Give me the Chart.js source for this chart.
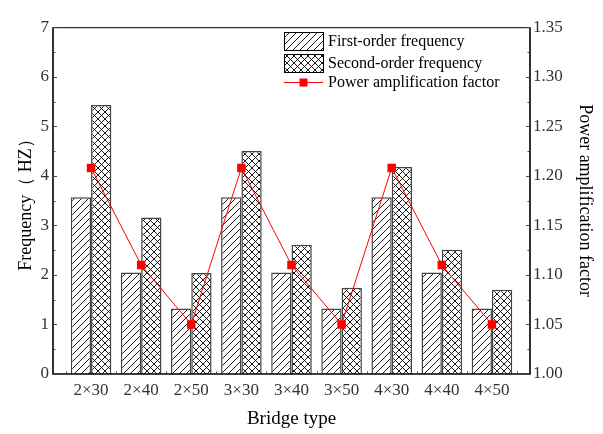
<!DOCTYPE html>
<html>
<head>
<meta charset="utf-8">
<script src="https://cdn.jsdelivr.net/npm/chart.js@4"></script>
<style>
  html, body { margin: 0; padding: 0; background: #fff; }
  #wrap { width: 603px; height: 434px; }
</style>
</head>
<body>
<div id="wrap"><canvas id="chart"></canvas></div>
<script>
const bridgeTypes = ["2×30", "2×40", "2×50", "3×30", "3×40", "3×50", "4×30", "4×40", "4×50"];
const firstOrder = [3.57, 2.05, 1.32, 3.57, 2.05, 1.32, 3.57, 2.05, 1.32];
const secondOrder = [5.43, 3.16, 2.04, 4.50, 2.61, 1.74, 4.18, 2.51, 1.70];
const ampFactor = [1.208, 1.11, 1.05, 1.208, 1.11, 1.05, 1.208, 1.11, 1.05];
const freqTicks = [0, 1, 2, 3, 4, 5, 6, 7];
const ampTicks = [1.00, 1.05, 1.10, 1.15, 1.20, 1.25, 1.30, 1.35];

const serif = "'Liberation Serif', 'Times New Roman', serif";
const canvas = document.getElementById("chart");
const ctx = canvas.getContext("2d");

// hatch fills for the bars
function hatch(cross) {
  const s = 7;
  const c = document.createElement("canvas");
  c.width = s; c.height = s;
  const g = c.getContext("2d");
  g.fillStyle = "#fff";
  g.fillRect(0, 0, s, s);
  g.strokeStyle = "#000";
  g.lineWidth = 0.9;
  g.beginPath();
  g.moveTo(-1, s + 1); g.lineTo(s + 1, -1);
  g.moveTo(-1, 1); g.lineTo(1, -1);
  g.moveTo(s - 1, s + 1); g.lineTo(s + 1, s - 1);
  if (cross) {
    g.moveTo(-1, -1); g.lineTo(s + 1, s + 1);
    g.moveTo(s - 1, -1); g.lineTo(s + 1, 1);
    g.moveTo(-1, s - 1); g.lineTo(1, s + 1);
  }
  g.stroke();
  return ctx.createPattern(c, "repeat");
}
const hatchSingle = hatch(false);
const hatchCross = hatch(true);

// axes frame with inward ticks
const frame = {
  id: "frame",
  afterDraw(chart) {
    const { ctx, chartArea: ca, scales } = chart;
    const L = ca.left - 13, R = ca.right + 13, T = ca.top, B = ca.bottom;
    ctx.save();
    ctx.strokeStyle = "#000";
    ctx.lineWidth = 1;
    ctx.beginPath();
    ctx.moveTo(L, T + 0.5); ctx.lineTo(R, T + 0.5);
    ctx.stroke();
    ctx.lineWidth = 1.6;
    ctx.beginPath();
    ctx.moveTo(L, T); ctx.lineTo(L, B); ctx.lineTo(R, B); ctx.lineTo(R, T);
    ctx.stroke();
    ctx.lineWidth = 1;
    ctx.strokeStyle = "#444";
    ctx.beginPath();
    freqTicks.forEach((v, i) => {
      const y = Math.round(scales.y.getPixelForValue(v)) + 0.5;
      ctx.moveTo(L, y); ctx.lineTo(L + 4, y);
      if (i < freqTicks.length - 1) {
        const ym = Math.round(scales.y.getPixelForValue(v + 0.5)) + 0.5;
        ctx.moveTo(L, ym); ctx.lineTo(L + 2.5, ym);
      }
    });
    ampTicks.forEach((v, i) => {
      const y = Math.round(scales.y1.getPixelForValue(v)) + 0.5;
      ctx.moveTo(R, y); ctx.lineTo(R - 4, y);
      if (i < ampTicks.length - 1) {
        const ym = Math.round(scales.y1.getPixelForValue(v + 0.025)) + 0.5;
        ctx.moveTo(R, ym); ctx.lineTo(R - 2.5, ym);
      }
    });
    const step = (ca.right - ca.left) / bridgeTypes.length;
    for (let i = 0; i <= bridgeTypes.length; i++) {
      const x = Math.round(ca.left + i * step) + 0.5;
      ctx.moveTo(x, B); ctx.lineTo(x, B - 2.5);
    }
    ctx.stroke();
    ctx.restore();
  }
};

// legend box in the top right
const legendBox = {
  id: "legendBox",
  afterDraw(chart) {
    const { ctx } = chart;
    const ds = chart.data.datasets;
    const x0 = 284, w = 39, tx = 328;
    const rows = [41, 63, 82];
    ctx.save();
    ctx.font = "16px " + serif;
    ctx.fillStyle = "#000";
    ctx.textBaseline = "middle";
    ds.forEach((d, i) => {
      const cy = rows[i];
      if (d.type === "line") {
        ctx.strokeStyle = d.borderColor;
        ctx.lineWidth = 1;
        ctx.beginPath();
        ctx.moveTo(x0, cy + 0.5); ctx.lineTo(x0 + w, cy + 0.5);
        ctx.stroke();
        ctx.fillStyle = d.pointBackgroundColor;
        ctx.fillRect(x0 + w / 2 - 4, cy - 3.5, 8, 8);
      } else {
        ctx.fillStyle = d.backgroundColor;
        ctx.fillRect(x0, cy - 9, w, 18);
        ctx.strokeStyle = "#000";
        ctx.lineWidth = 1;
        ctx.strokeRect(x0 + 0.5, cy - 9 + 0.5, w, 18);
      }
      ctx.fillStyle = "#000";
      ctx.fillText(d.label, tx, cy + 1);
    });
    ctx.restore();
  }
};

new Chart(canvas, {
  type: "bar",
  data: {
    labels: bridgeTypes,
    datasets: [
      {
        label: "First-order frequency",
        data: firstOrder,
        yAxisID: "y",
        backgroundColor: hatchSingle,
        borderColor: "#444",
        borderWidth: 1.5,
        order: 1
      },
      {
        label: "Second-order frequency",
        data: secondOrder,
        yAxisID: "y",
        backgroundColor: hatchCross,
        borderColor: "#444",
        borderWidth: 1.5,
        order: 1
      },
      {
        type: "line",
        label: "Power amplification factor",
        data: ampFactor,
        yAxisID: "y1",
        borderColor: "#ff0000",
        borderWidth: 1,
        pointStyle: "rect",
        pointRadius: 6,
        pointBackgroundColor: "#ff0000",
        pointBorderWidth: 0,
        tension: 0,
        order: 0
      }
    ]
  },
  options: {
    responsive: true,
    maintainAspectRatio: false,
    animation: false,
    layout: { padding: { top: 13, left: 0, right: 0, bottom: 0 } },
    datasets: { bar: { categoryPercentage: 0.81, barPercentage: 1 } },
    plugins: { legend: { display: false }, tooltip: { enabled: false } },
    scales: {
      x: {
        grid: { display: false, drawTicks: false },
        border: { display: false },
        ticks: { color: "#333", font: { family: serif, size: 17 }, padding: 6, maxRotation: 0, autoSkip: false },
        title: { display: true, text: "Bridge type", color: "#000", font: { family: serif, size: 19 }, padding: { top: 0, bottom: 4 } },
        afterFit(scale) { scale.height = 60; }
      },
      y: {
        position: "left",
        min: 0,
        max: 7,
        grid: { display: false, drawTicks: false },
        border: { display: false },
        afterBuildTicks(scale) { scale.ticks = freqTicks.map(v => ({ value: v })); },
        ticks: { color: "#333", font: { family: serif, size: 17 }, padding: 17 },
        title: { display: true, text: "Frequency（ HZ）", color: "#000", font: { family: serif, size: 18 }, padding: { top: 15, bottom: 0 } },
        afterFit(scale) { scale.width = 66; }
      },
      y1: {
        position: "right",
        min: 1.0,
        max: 1.35,
        grid: { display: false, drawTicks: false },
        border: { display: false },
        afterBuildTicks(scale) { scale.ticks = ampTicks.map(v => ({ value: v })); },
        ticks: { color: "#333", font: { family: serif, size: 17 }, padding: 16, callback: v => v.toFixed(2) },
        title: { display: true, text: "Power amplification factor", color: "#000", font: { family: serif, size: 18 }, padding: { top: 7, bottom: 0 } },
        afterFit(scale) { scale.width = 86; }
      }
    }
  },
  plugins: [frame, legendBox]
});
</script>
</body>
</html>
